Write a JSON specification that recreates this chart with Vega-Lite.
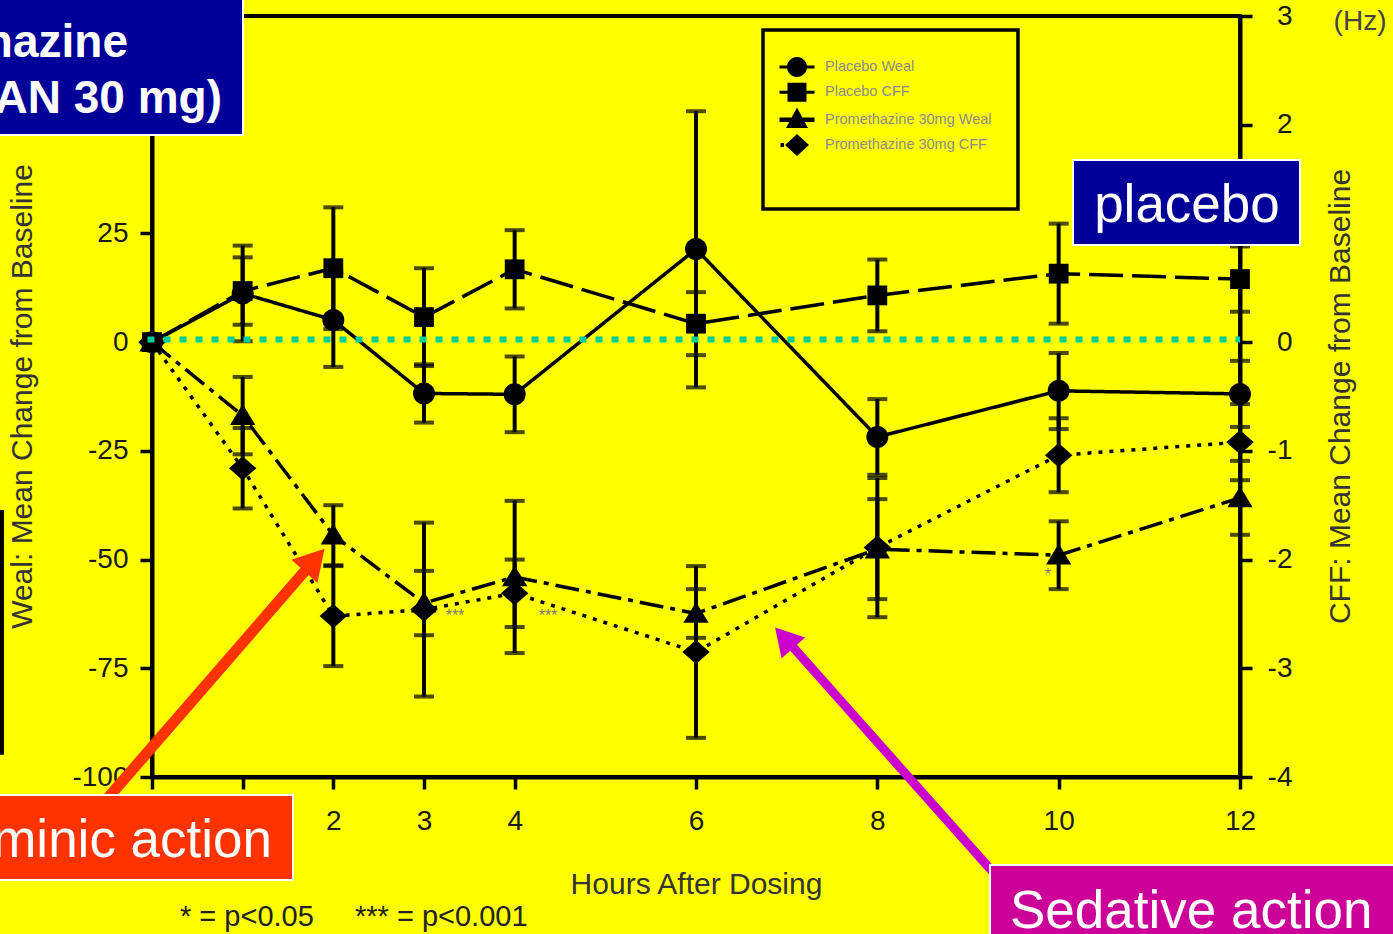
{
  "$schema": "https://vega.github.io/schema/vega-lite/v6.json",
  "width": 1088,
  "height": 761,
  "autosize": {"type": "none"},
  "padding": {"left": 152, "top": 16, "right": 153, "bottom": 157},
  "background": "#FFFF00",
  "config": {
    "view": {"fill": "#FFFF00", "stroke": "#000000", "strokeWidth": 4},
    "font": "Liberation Sans",
    "axis": {
      "grid": false,
      "domainColor": "#000000",
      "domainWidth": 4,
      "tickColor": "#000000",
      "tickWidth": 3.5,
      "tickSize": 12,
      "labelFont": "Liberation Sans",
      "labelFontSize": 28,
      "labelColor": "#1a1a1a",
      "labelOverlap": false,
      "labelFlush": false,
      "labelExpr": "datum.value + ''",
      "titleFont": "Liberation Sans",
      "titleFontSize": 30,
      "titleFontWeight": "normal",
      "titleColor": "#333333"
    }
  },
  "datasets": {
    "measurements": [
      {"series": "Placebo Weal", "measure": "Weal", "hour": 0, "mean": 0, "lo": 0, "hi": 0},
      {"series": "Placebo Weal", "measure": "Weal", "hour": 1, "mean": 11.2, "lo": 0.2, "hi": 22.2},
      {"series": "Placebo Weal", "measure": "Weal", "hour": 2, "mean": 5.1, "lo": -5.7, "hi": 15.9},
      {"series": "Placebo Weal", "measure": "Weal", "hour": 3, "mean": -11.8, "lo": -18.5, "hi": -5.1},
      {"series": "Placebo Weal", "measure": "Weal", "hour": 4, "mean": -12.0, "lo": -20.7, "hi": -3.3},
      {"series": "Placebo Weal", "measure": "Weal", "hour": 6, "mean": 21.4, "lo": -10.4, "hi": 53.1},
      {"series": "Placebo Weal", "measure": "Weal", "hour": 8, "mean": -21.8, "lo": -30.5, "hi": -13.1},
      {"series": "Placebo Weal", "measure": "Weal", "hour": 10, "mean": -11.2, "lo": -20.0, "hi": -2.5},
      {"series": "Placebo Weal", "measure": "Weal", "hour": 12, "mean": -11.9, "lo": -19.5, "hi": -4.3},
      {"series": "Placebo CFF", "measure": "CFF", "hour": 0, "mean": 0, "lo": 0, "hi": 0},
      {"series": "Placebo CFF", "measure": "CFF", "hour": 1, "mean": 0.47, "lo": 0.16, "hi": 0.78},
      {"series": "Placebo CFF", "measure": "CFF", "hour": 2, "mean": 0.68, "lo": 0.12, "hi": 1.24},
      {"series": "Placebo CFF", "measure": "CFF", "hour": 3, "mean": 0.23, "lo": -0.22, "hi": 0.68},
      {"series": "Placebo CFF", "measure": "CFF", "hour": 4, "mean": 0.67, "lo": 0.31, "hi": 1.03},
      {"series": "Placebo CFF", "measure": "CFF", "hour": 6, "mean": 0.17, "lo": -0.12, "hi": 0.46},
      {"series": "Placebo CFF", "measure": "CFF", "hour": 8, "mean": 0.43, "lo": 0.10, "hi": 0.76},
      {"series": "Placebo CFF", "measure": "CFF", "hour": 10, "mean": 0.63, "lo": 0.17, "hi": 1.09},
      {"series": "Placebo CFF", "measure": "CFF", "hour": 12, "mean": 0.58, "lo": 0.28, "hi": 0.88},
      {"series": "Promethazine 30mg Weal", "measure": "Weal", "hour": 0, "mean": 0, "lo": 0, "hi": 0},
      {"series": "Promethazine 30mg Weal", "measure": "Weal", "hour": 1, "mean": -16.9, "lo": -25.8, "hi": -8.0},
      {"series": "Promethazine 30mg Weal", "measure": "Weal", "hour": 2, "mean": -44.4, "lo": -51.3, "hi": -37.5},
      {"series": "Promethazine 30mg Weal", "measure": "Weal", "hour": 3, "mean": -60.0, "lo": -67.4, "hi": -52.6},
      {"series": "Promethazine 30mg Weal", "measure": "Weal", "hour": 4, "mean": -54.0, "lo": -71.5, "hi": -36.5},
      {"series": "Promethazine 30mg Weal", "measure": "Weal", "hour": 6, "mean": -62.4, "lo": -68.0, "hi": -56.8},
      {"series": "Promethazine 30mg Weal", "measure": "Weal", "hour": 8, "mean": -47.6, "lo": -59.1, "hi": -36.1},
      {"series": "Promethazine 30mg Weal", "measure": "Weal", "hour": 10, "mean": -49.0, "lo": -56.8, "hi": -41.2},
      {"series": "Promethazine 30mg Weal", "measure": "Weal", "hour": 12, "mean": -35.8, "lo": -44.3, "hi": -27.3},
      {"series": "Promethazine 30mg CFF", "measure": "CFF", "hour": 0, "mean": 0, "lo": 0, "hi": 0},
      {"series": "Promethazine 30mg CFF", "measure": "CFF", "hour": 1, "mean": -1.16, "lo": -1.53, "hi": -0.79},
      {"series": "Promethazine 30mg CFF", "measure": "CFF", "hour": 2, "mean": -2.52, "lo": -2.98, "hi": -2.06},
      {"series": "Promethazine 30mg CFF", "measure": "CFF", "hour": 3, "mean": -2.46, "lo": -3.26, "hi": -1.66},
      {"series": "Promethazine 30mg CFF", "measure": "CFF", "hour": 4, "mean": -2.31, "lo": -2.62, "hi": -2.00},
      {"series": "Promethazine 30mg CFF", "measure": "CFF", "hour": 6, "mean": -2.85, "lo": -3.64, "hi": -2.06},
      {"series": "Promethazine 30mg CFF", "measure": "CFF", "hour": 8, "mean": -1.89, "lo": -2.53, "hi": -1.25},
      {"series": "Promethazine 30mg CFF", "measure": "CFF", "hour": 10, "mean": -1.04, "lo": -1.38, "hi": -0.70},
      {"series": "Promethazine 30mg CFF", "measure": "CFF", "hour": 12, "mean": -0.92, "lo": -1.27, "hi": -0.57}
    ]
  },
  "resolve": {"scale": {"y": "independent", "shape": "independent", "strokeDash": "independent"}},
  "layer": [
    {
      "data": {"name": "measurements"},
      "transform": [{"filter": "datum.measure === 'Weal'"}],
      "layer": [
        {
          "mark": {"type": "line", "color": "#000000", "strokeWidth": 3.5},
          "encoding": {
            "x": {"field": "hour", "type": "quantitative", "title": "Hours After Dosing", "scale": {"domain": [0, 12], "nice": false, "zero": false},
                  "axis": {"orient": "bottom", "values": [0, 1, 2, 3, 4, 6, 8, 10, 12], "labelPadding": 18, "titleX": 544, "titleY": 107, "titleAlign": "center", "titleBaseline": "middle"}},
            "y": {"field": "mean", "type": "quantitative", "title": "Weal: Mean Change from Baseline", "scale": {"domain": [-100, 75], "nice": false, "zero": false},
                  "axis": {"orient": "left", "values": [-100, -75, -50, -25, 0, 25, 50, 75], "labelPadding": 12, "titleAngle": 270, "titleX": -130, "titleY": 380, "titleAlign": "center", "titleBaseline": "middle"}},
            "strokeDash": {"field": "series", "type": "nominal", "legend": null,
                           "scale": {"domain": ["Placebo Weal", "Placebo CFF", "Promethazine 30mg Weal", "Promethazine 30mg CFF"], "range": [[1, 0], [34, 9], [24, 7, 5, 7], [4, 7]]}}
          }
        },
        {
          "transform": [{"filter": "datum.hour > 0"}],
          "mark": {"type": "errorbar", "ticks": {"size": 20, "thickness": 4, "color": "#000000"}, "rule": {"strokeWidth": 4, "color": "#000000"}},
          "encoding": {
            "x": {"field": "hour", "type": "quantitative", "title": "Hours After Dosing", "scale": {"domain": [0, 12], "nice": false, "zero": false}},
            "y": {"field": "lo", "type": "quantitative", "title": "Weal: Mean Change from Baseline", "scale": {"domain": [-100, 75], "nice": false, "zero": false}},
            "y2": {"field": "hi"}
          }
        },
        {
          "mark": {"type": "point", "filled": true, "color": "#000000", "opacity": 1, "strokeWidth": 0, "size": 121},
          "encoding": {
            "x": {"field": "hour", "type": "quantitative", "title": "Hours After Dosing", "scale": {"domain": [0, 12], "nice": false, "zero": false}},
            "y": {"field": "mean", "type": "quantitative", "title": "Weal: Mean Change from Baseline", "scale": {"domain": [-100, 75], "nice": false, "zero": false}},
            "shape": {"field": "series", "type": "nominal", "legend": null,
                      "scale": {"domain": ["Placebo Weal", "Placebo CFF", "Promethazine 30mg Weal", "Promethazine 30mg CFF"],
                                "range": ["M2,0A2,2 0 1,1 -2,0A2,2 0 1,1 2,0Z", "M-1.8,-1.8H1.8V1.8H-1.8Z", "M0,-2.1L2.3,1.7H-2.3Z", "M0,-2.2L2.5,0L0,2.2L-2.5,0Z"]}}
          }
        }
      ]
    },
    {
      "data": {"name": "measurements"},
      "transform": [{"filter": "datum.measure === 'CFF'"}],
      "layer": [
        {
          "mark": {"type": "line", "color": "#000000", "strokeWidth": 3.5},
          "encoding": {
            "x": {"field": "hour", "type": "quantitative", "title": "Hours After Dosing", "scale": {"domain": [0, 12], "nice": false, "zero": false}},
            "y": {"field": "mean", "type": "quantitative", "title": "CFF: Mean Change from Baseline", "scale": {"domain": [-4, 3], "nice": false, "zero": false},
                  "axis": {"orient": "right", "values": [-4, -3, -2, -1, 0, 1, 2, 3], "labelAlign": "right", "labelPadding": 40, "titleAngle": 270, "titleX": 100, "titleY": 380, "titleAlign": "center", "titleBaseline": "middle"}},
            "strokeDash": {"field": "series", "type": "nominal", "legend": null,
                           "scale": {"domain": ["Placebo Weal", "Placebo CFF", "Promethazine 30mg Weal", "Promethazine 30mg CFF"], "range": [[1, 0], [34, 9], [24, 7, 5, 7], [4, 7]]}}
          }
        },
        {
          "transform": [{"filter": "datum.hour > 0"}],
          "mark": {"type": "errorbar", "ticks": {"size": 20, "thickness": 4, "color": "#000000"}, "rule": {"strokeWidth": 4, "color": "#000000"}},
          "encoding": {
            "x": {"field": "hour", "type": "quantitative", "title": "Hours After Dosing", "scale": {"domain": [0, 12], "nice": false, "zero": false}},
            "y": {"field": "lo", "type": "quantitative", "title": "CFF: Mean Change from Baseline", "scale": {"domain": [-4, 3], "nice": false, "zero": false}},
            "y2": {"field": "hi"}
          }
        },
        {
          "mark": {"type": "point", "filled": true, "color": "#000000", "opacity": 1, "strokeWidth": 0, "size": 121},
          "encoding": {
            "x": {"field": "hour", "type": "quantitative", "title": "Hours After Dosing", "scale": {"domain": [0, 12], "nice": false, "zero": false}},
            "y": {"field": "mean", "type": "quantitative", "title": "CFF: Mean Change from Baseline", "scale": {"domain": [-4, 3], "nice": false, "zero": false}},
            "shape": {"field": "series", "type": "nominal", "legend": null,
                      "scale": {"domain": ["Placebo Weal", "Placebo CFF", "Promethazine 30mg Weal", "Promethazine 30mg CFF"],
                                "range": ["M2,0A2,2 0 1,1 -2,0A2,2 0 1,1 2,0Z", "M-1.8,-1.8H1.8V1.8H-1.8Z", "M0,-2.1L2.3,1.7H-2.3Z", "M0,-2.2L2.5,0L0,2.2L-2.5,0Z"]}}
          }
        }
      ]
    },
    {
      "data": {"values": [{}]},
      "layer": [
        {
          "mark": {"type": "rule", "color": "#00CC99", "strokeWidth": 6, "strokeDash": [7, 9]},
          "encoding": {
            "x": {"datum": -0.05, "type": "quantitative", "title": "Hours After Dosing", "scale": {"domain": [0, 12], "nice": false, "zero": false}},
            "x2": {"datum": 12},
            "y": {"datum": 0.6, "type": "quantitative", "scale": {"domain": [-100, 75], "nice": false, "zero": false}, "axis": null}
          }
        },
        {
          "mark": {"type": "rect", "fill": null, "fillOpacity": 0, "stroke": "#000000", "strokeWidth": 3.5},
          "encoding": {
            "x": {"datum": 6.739, "type": "quantitative", "title": "Hours After Dosing", "scale": {"domain": [0, 12], "nice": false, "zero": false}},
            "x2": {"datum": 9.551},
            "y": {"datum": 71.78, "type": "quantitative", "scale": {"domain": [-100, 75], "nice": false, "zero": false}, "axis": null},
            "y2": {"datum": 30.62}
          }
        },
        {
          "mark": {"type": "text", "text": "***", "font": "Liberation Sans", "fontSize": 16, "color": "#7a7a7a", "align": "center", "baseline": "middle"},
          "encoding": {
            "x": {"datum": 3.342, "type": "quantitative", "title": "Hours After Dosing", "scale": {"domain": [0, 12], "nice": false, "zero": false}},
            "y": {"datum": -63.0, "type": "quantitative", "scale": {"domain": [-100, 75], "nice": false, "zero": false}, "axis": null}
          }
        },
        {
          "mark": {"type": "text", "text": "***", "font": "Liberation Sans", "fontSize": 16, "color": "#7a7a7a", "align": "center", "baseline": "middle"},
          "encoding": {
            "x": {"datum": 4.368, "type": "quantitative", "title": "Hours After Dosing", "scale": {"domain": [0, 12], "nice": false, "zero": false}},
            "y": {"datum": -63.0, "type": "quantitative", "scale": {"domain": [-100, 75], "nice": false, "zero": false}, "axis": null}
          }
        },
        {
          "mark": {"type": "text", "text": "*", "font": "Liberation Sans", "fontSize": 16, "color": "#7a7a7a", "align": "center", "baseline": "middle"},
          "encoding": {
            "x": {"datum": 9.882, "type": "quantitative", "title": "Hours After Dosing", "scale": {"domain": [0, 12], "nice": false, "zero": false}},
            "y": {"datum": -53.5, "type": "quantitative", "scale": {"domain": [-100, 75], "nice": false, "zero": false}, "axis": null}
          }
        },
        {
          "mark": {"type": "rect", "color": "#000000"},
          "encoding": {
            "x": {"datum": -1.69, "type": "quantitative", "title": "Hours After Dosing", "scale": {"domain": [0, 12], "nice": false, "zero": false}},
            "x2": {"datum": -1.633},
            "y": {"datum": -38.6, "type": "quantitative", "scale": {"domain": [-100, 75], "nice": false, "zero": false}, "axis": null},
            "y2": {"datum": -94.9}
          }
        },
        {
          "mark": {"type": "rule", "color": "#FF3300", "strokeWidth": 11},
          "encoding": {
            "x": {"datum": -0.794, "type": "quantitative", "title": "Hours After Dosing", "scale": {"domain": [0, 12], "nice": false, "zero": false}},
            "x2": {"datum": 1.743},
            "y": {"datum": -112.2, "type": "quantitative", "scale": {"domain": [-100, 75], "nice": false, "zero": false}, "axis": null},
            "y2": {"datum": -51.25}
          }
        },
        {
          "mark": {"type": "point", "shape": "triangle-up", "filled": true, "color": "#FF3300", "opacity": 1, "size": 1225, "angle": 41.7, "strokeWidth": 0},
          "encoding": {
            "x": {"datum": 1.792, "type": "quantitative", "title": "Hours After Dosing", "scale": {"domain": [0, 12], "nice": false, "zero": false}},
            "y": {"datum": -50.12, "type": "quantitative", "scale": {"domain": [-100, 75], "nice": false, "zero": false}, "axis": null}
          }
        },
        {
          "mark": {"type": "rule", "color": "#CC00CC", "strokeWidth": 9},
          "encoding": {
            "x": {"datum": 9.353, "type": "quantitative", "title": "Hours After Dosing", "scale": {"domain": [0, 12], "nice": false, "zero": false}},
            "x2": {"datum": 7.059},
            "y": {"datum": -123.7, "type": "quantitative", "scale": {"domain": [-100, 75], "nice": false, "zero": false}, "axis": null},
            "y2": {"datum": -69.87}
          }
        },
        {
          "mark": {"type": "point", "shape": "triangle-up", "filled": true, "color": "#CC00CC", "opacity": 1, "size": 1000, "angle": -41.7, "strokeWidth": 0},
          "encoding": {
            "x": {"datum": 6.973, "type": "quantitative", "title": "Hours After Dosing", "scale": {"domain": [0, 12], "nice": false, "zero": false}},
            "y": {"datum": -67.97, "type": "quantitative", "scale": {"domain": [-100, 75], "nice": false, "zero": false}, "axis": null}
          }
        },
        {
          "mark": {"type": "rect", "fill": "#000099", "stroke": "#FFFFFF", "strokeWidth": 2},
          "encoding": {
            "x": {"datum": -2.0, "type": "quantitative", "title": "Hours After Dosing", "scale": {"domain": [0, 12], "nice": false, "zero": false}},
            "x2": {"datum": 1.004},
            "y": {"datum": 80, "type": "quantitative", "scale": {"domain": [-100, 75], "nice": false, "zero": false}, "axis": null},
            "y2": {"datum": 47.63}
          }
        },
        {
          "mark": {"type": "text", "text": "Promethazine", "font": "Liberation Sans", "fontSize": 46, "fontWeight": "bold", "color": "#FFFFFF", "align": "right", "baseline": "alphabetic"},
          "encoding": {
            "x": {"datum": -0.265, "type": "quantitative", "title": "Hours After Dosing", "scale": {"domain": [0, 12], "nice": false, "zero": false}},
            "y": {"datum": 65.57, "type": "quantitative", "scale": {"domain": [-100, 75], "nice": false, "zero": false}, "axis": null}
          }
        },
        {
          "mark": {"type": "text", "text": "(PHENERGAN 30 mg)", "font": "Liberation Sans", "fontSize": 46, "fontWeight": "bold", "color": "#FFFFFF", "align": "right", "baseline": "alphabetic"},
          "encoding": {
            "x": {"datum": 0.772, "type": "quantitative", "title": "Hours After Dosing", "scale": {"domain": [0, 12], "nice": false, "zero": false}},
            "y": {"datum": 52.69, "type": "quantitative", "scale": {"domain": [-100, 75], "nice": false, "zero": false}, "axis": null}
          }
        },
        {
          "mark": {"type": "rect", "fill": "#000099", "stroke": "#FFFFFF", "strokeWidth": 2},
          "encoding": {
            "x": {"datum": 10.158, "type": "quantitative", "title": "Hours After Dosing", "scale": {"domain": [0, 12], "nice": false, "zero": false}},
            "x2": {"datum": 12.662},
            "y": {"datum": 41.89, "type": "quantitative", "scale": {"domain": [-100, 75], "nice": false, "zero": false}, "axis": null},
            "y2": {"datum": 22.34}
          }
        },
        {
          "mark": {"type": "text", "text": "placebo", "font": "Liberation Sans", "fontSize": 53, "color": "#FFFFFF", "align": "center", "baseline": "alphabetic"},
          "encoding": {
            "x": {"datum": 11.415, "type": "quantitative", "title": "Hours After Dosing", "scale": {"domain": [0, 12], "nice": false, "zero": false}},
            "y": {"datum": 27.63, "type": "quantitative", "scale": {"domain": [-100, 75], "nice": false, "zero": false}, "axis": null}
          }
        },
        {
          "mark": {"type": "rect", "fill": "#FF3300", "stroke": "#FFFFFF", "strokeWidth": 2},
          "encoding": {
            "x": {"datum": -2.0, "type": "quantitative", "title": "Hours After Dosing", "scale": {"domain": [0, 12], "nice": false, "zero": false}},
            "x2": {"datum": 1.555},
            "y": {"datum": -104.14, "type": "quantitative", "scale": {"domain": [-100, 75], "nice": false, "zero": false}, "axis": null},
            "y2": {"datum": -123.68}
          }
        },
        {
          "mark": {"type": "text", "text": "Antihistaminic action", "font": "Liberation Sans", "fontSize": 53, "color": "#FFFFFF", "align": "right", "baseline": "alphabetic"},
          "encoding": {
            "x": {"datum": 1.324, "type": "quantitative", "title": "Hours After Dosing", "scale": {"domain": [0, 12], "nice": false, "zero": false}},
            "y": {"datum": -118.4, "type": "quantitative", "scale": {"domain": [-100, 75], "nice": false, "zero": false}, "axis": null}
          }
        },
        {
          "mark": {"type": "rect", "fill": "#CC0099", "stroke": "#FFFFFF", "strokeWidth": 2},
          "encoding": {
            "x": {"datum": 9.243, "type": "quantitative", "title": "Hours After Dosing", "scale": {"domain": [0, 12], "nice": false, "zero": false}},
            "x2": {"datum": 14.5},
            "y": {"datum": -120.24, "type": "quantitative", "scale": {"domain": [-100, 75], "nice": false, "zero": false}, "axis": null},
            "y2": {"datum": -145}
          }
        },
        {
          "mark": {"type": "text", "text": "Sedative action", "font": "Liberation Sans", "fontSize": 53, "color": "#FFFFFF", "align": "left", "baseline": "alphabetic"},
          "encoding": {
            "x": {"datum": 9.463, "type": "quantitative", "title": "Hours After Dosing", "scale": {"domain": [0, 12], "nice": false, "zero": false}},
            "y": {"datum": -134.7, "type": "quantitative", "scale": {"domain": [-100, 75], "nice": false, "zero": false}, "axis": null}
          }
        },
        {
          "mark": {"type": "text", "text": "* = p<0.05", "font": "Liberation Sans", "fontSize": 29, "color": "#222222", "align": "left", "baseline": "middle"},
          "encoding": {
            "x": {"datum": 0.309, "type": "quantitative", "title": "Hours After Dosing", "scale": {"domain": [0, 12], "nice": false, "zero": false}},
            "y": {"datum": -132.2, "type": "quantitative", "scale": {"domain": [-100, 75], "nice": false, "zero": false}, "axis": null}
          }
        },
        {
          "mark": {"type": "text", "text": "*** = p<0.001", "font": "Liberation Sans", "fontSize": 29, "color": "#222222", "align": "left", "baseline": "middle"},
          "encoding": {
            "x": {"datum": 2.239, "type": "quantitative", "title": "Hours After Dosing", "scale": {"domain": [0, 12], "nice": false, "zero": false}},
            "y": {"datum": -132.2, "type": "quantitative", "scale": {"domain": [-100, 75], "nice": false, "zero": false}, "axis": null}
          }
        },
        {
          "mark": {"type": "text", "text": "(Hz)", "font": "Liberation Sans", "fontSize": 28, "color": "#444444", "align": "center", "baseline": "middle"},
          "encoding": {
            "x": {"datum": 13.324, "type": "quantitative", "title": "Hours After Dosing", "scale": {"domain": [0, 12], "nice": false, "zero": false}},
            "y": {"datum": 73.6, "type": "quantitative", "scale": {"domain": [-100, 75], "nice": false, "zero": false}, "axis": null}
          }
        }
      ]
    },
    {
      "data": {"name": "measurements"},
      "mark": {"type": "point", "filled": true, "color": "#000000", "opacity": 0},
      "encoding": {
        "x": {"field": "hour", "type": "quantitative", "title": "Hours After Dosing", "scale": {"domain": [0, 12], "nice": false, "zero": false}},
        "y": {"field": "mean", "type": "quantitative", "scale": {"domain": [-100, 75], "nice": false, "zero": false}, "axis": null},
        "shape": {
          "field": "series",
          "type": "nominal",
          "scale": {
            "domain": ["Placebo Weal", "Placebo CFF", "Promethazine 30mg Weal", "Promethazine 30mg CFF"],
            "range": [
              "M-1.75,-0.15H1.75V0.15H-1.75Z M1,0A1,1 0 1,1 -1,0A1,1 0 1,1 1,0Z",
              "M-1.75,-0.15H1.75V0.15H-1.75Z M-0.95,-0.95H0.95V0.95H-0.95Z",
              "M-1.75,-0.2H1.75V0.25H-1.75Z M0,-1.2L1.1,0.85H-1.1Z",
              "M-1.65,-0.2H-1.3V0.2H-1.65Z M0,-1.1L1.2,0L0,1.1L-1.2,0Z"
            ]
          },
          "legend": {
            "title": null,
            "orient": "none",
            "legendX": 635,
            "legendY": 41,
            "padding": 0,
            "symbolSize": 400,
            "symbolFillColor": "#000000",
            "symbolStrokeWidth": 0,
            "symbolOpacity": 1,
            "labelFont": "Liberation Sans",
            "labelFontSize": 14.5,
            "labelColor": "#8c8c8c",
            "labelOffset": 18,
            "labelLimit": 300,
            "labelExpr": "datum.label",
            "rowPadding": 5.3,
            "encode": {"symbols": {"update": {"opacity": {"value": 1}, "fill": {"value": "#000000"}}}}
          }
        }
      }
    }
  ]
}
